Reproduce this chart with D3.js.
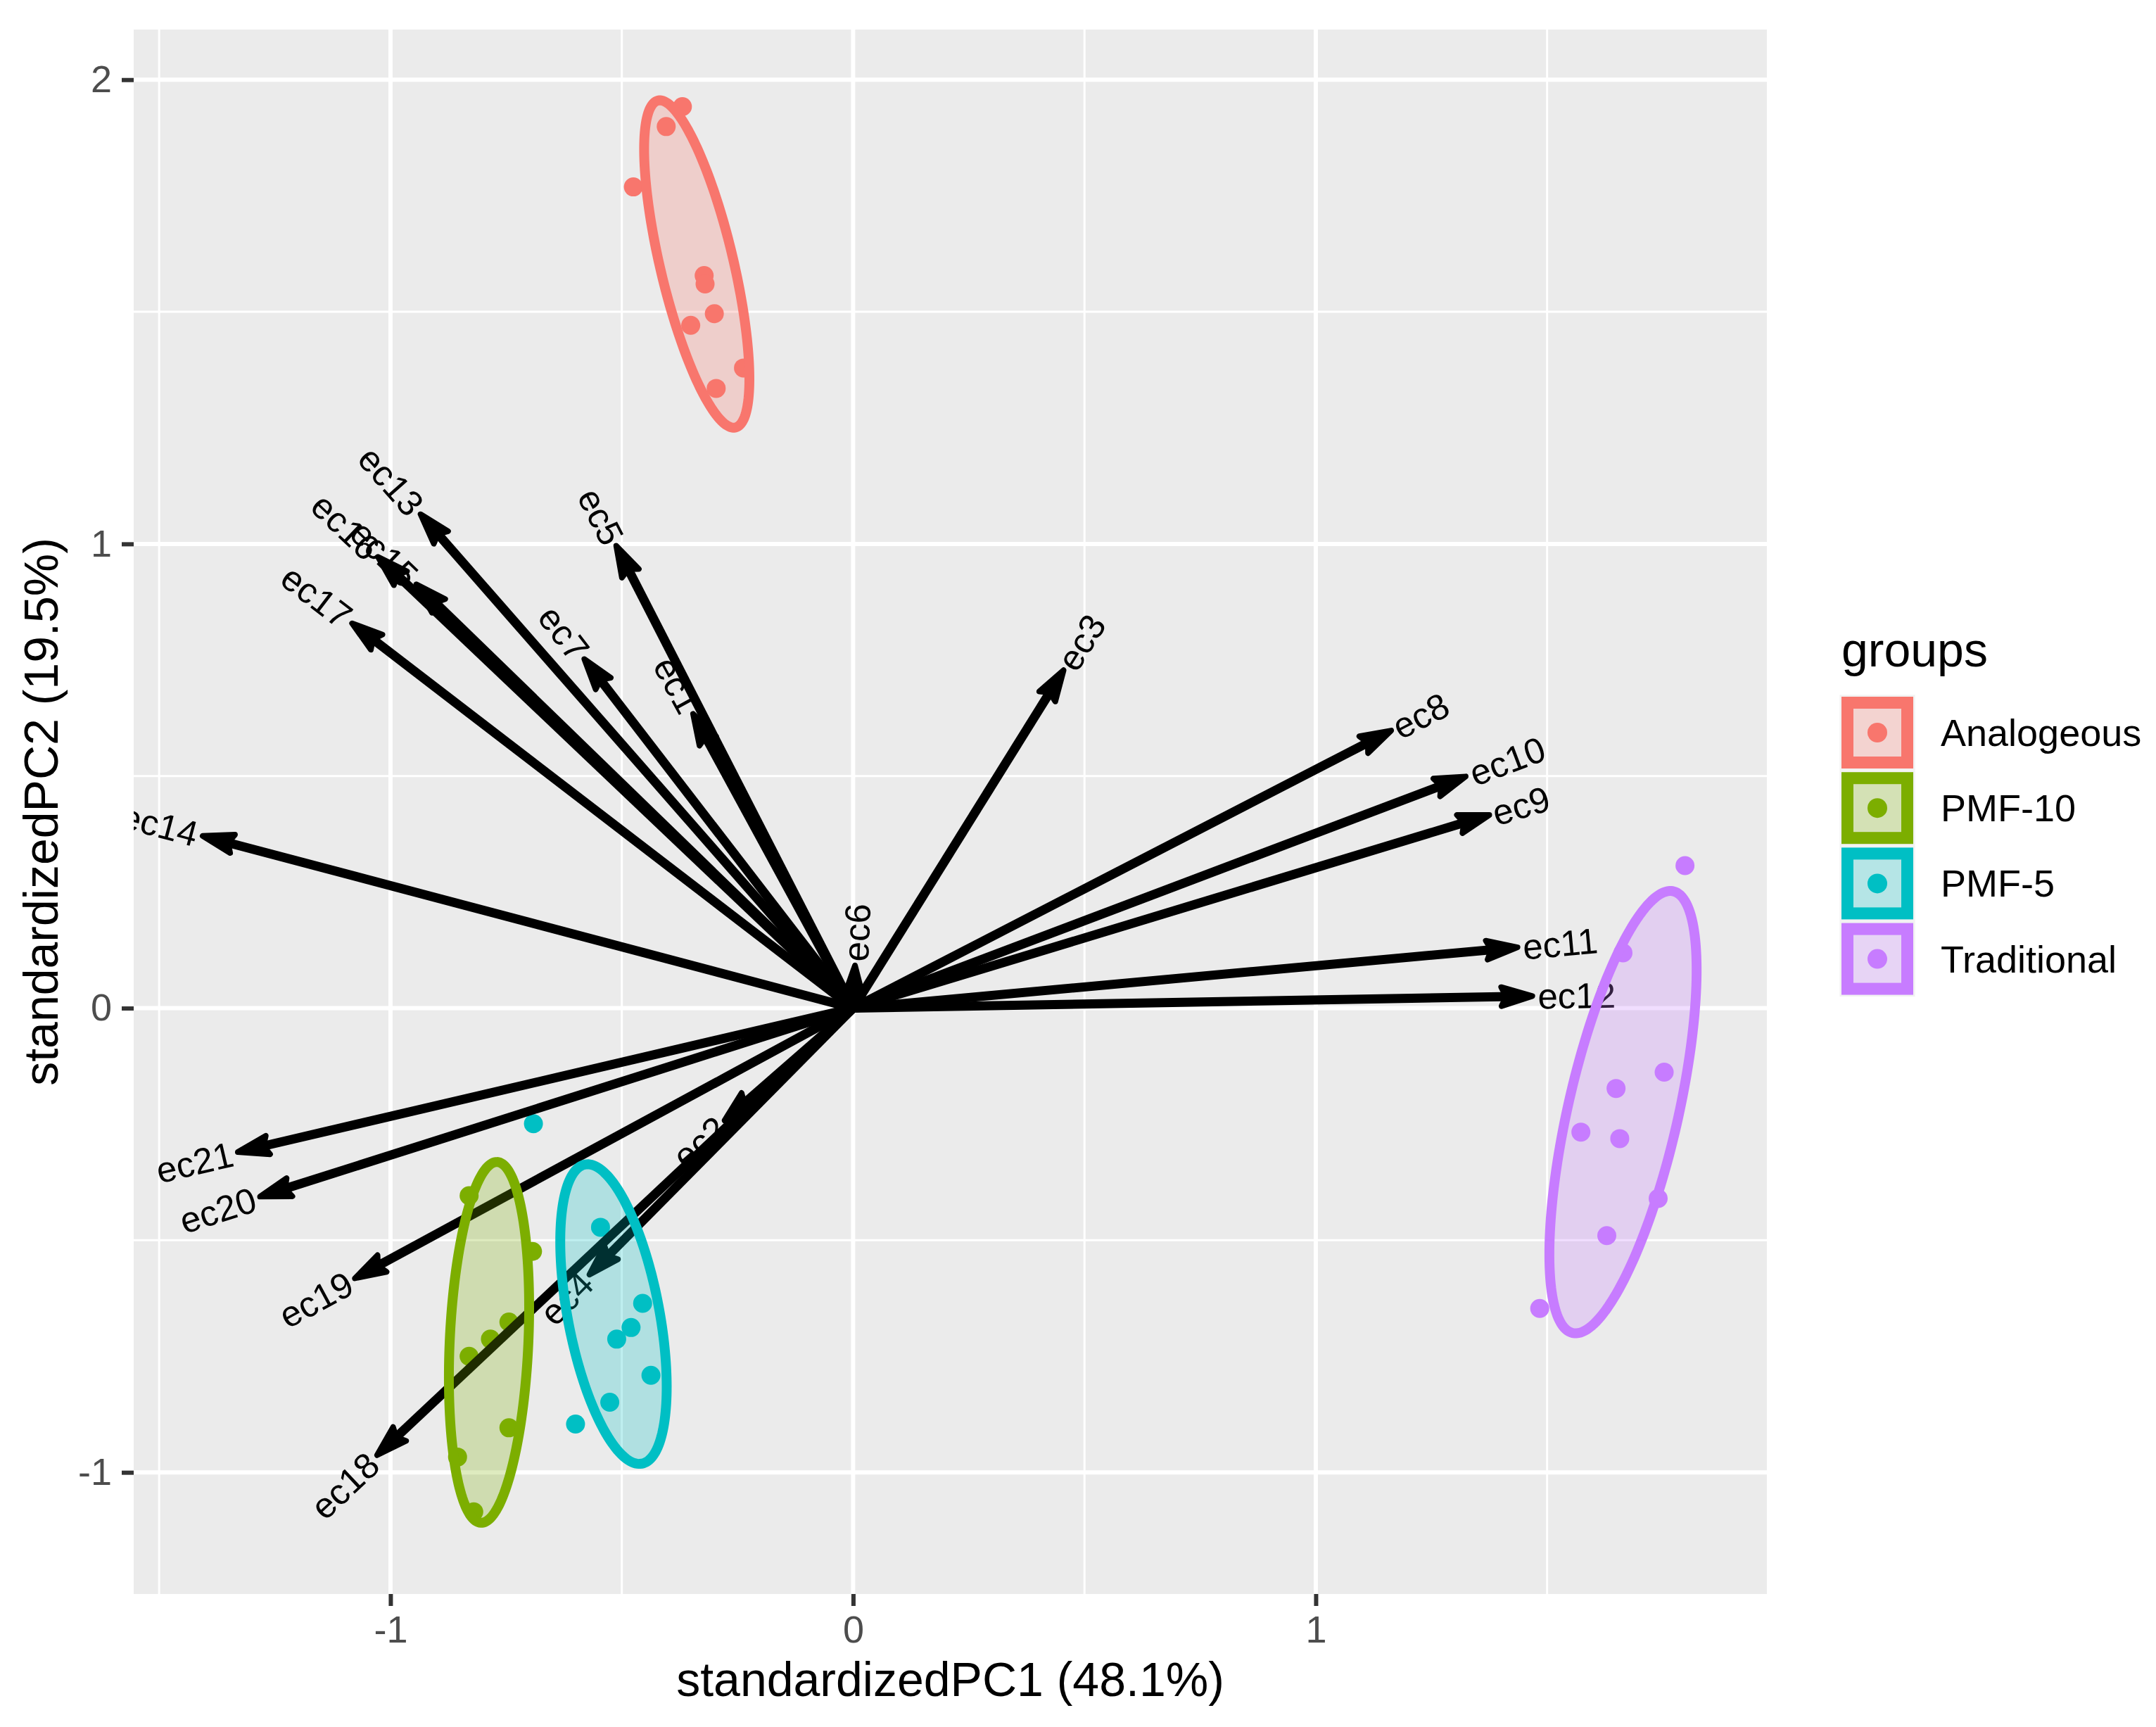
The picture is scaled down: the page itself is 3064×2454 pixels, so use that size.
<!DOCTYPE html>
<html><head><meta charset="utf-8">
<script src="https://cdn.jsdelivr.net/npm/d3@7/dist/d3.min.js"></script>
<style>
body{margin:0;background:#fff}
text{font-family:"Liberation Sans",Arial,Helvetica,sans-serif}
</style>
</head><body>
<svg id="chart" width="3064" height="2454"></svg>
<script>
// ---------------- DATA ----------------
const groups = ["Analogeous", "PMF-10", "PMF-5", "Traditional"];
const groupColors = ["#F8766D", "#7CAE00", "#00BFC4", "#C77CFF"];

const pointGroup = [
  "Analogeous","Analogeous","Analogeous","Analogeous","Analogeous","Analogeous","Analogeous","Analogeous","Analogeous",
  "PMF-10","PMF-10","PMF-10","PMF-10","PMF-10","PMF-10","PMF-10","PMF-10",
  "PMF-5","PMF-5","PMF-5","PMF-5","PMF-5","PMF-5","PMF-5","PMF-5",
  "Traditional","Traditional","Traditional","Traditional","Traditional","Traditional","Traditional","Traditional","Traditional"
];
const pointX = [
  -0.369, -0.404, -0.475, -0.322, -0.320, -0.300, -0.351, -0.237, -0.296,
  -0.830, -0.693, -0.744, -0.784, -0.830, -0.744, -0.855, -0.820,
  -0.691, -0.546, -0.455, -0.480, -0.511, -0.437, -0.526, -0.600,
  1.798, 1.664, 1.753, 1.649, 1.573, 1.657, 1.740, 1.629, 1.484
];
const pointY = [
  1.942, 1.899, 1.769, 1.578, 1.560, 1.496, 1.471, 1.379, 1.335,
  -0.404, -0.524, -0.676, -0.713, -0.750, -0.904, -0.967, -1.085,
  -0.249, -0.472, -0.636, -0.688, -0.713, -0.791, -0.849, -0.896,
  0.307, 0.119, -0.138, -0.173, -0.267, -0.281, -0.410, -0.490, -0.647
];

const varNames = ["ec1","ec2","ec3","ec4","ec5","ec6","ec7","ec8","ec9","ec10","ec11",
                  "ec12","ec13","ec14","ec15","ec16","ec17","ec18","ec19","ec20","ec21"];
const varX = [-0.346, -0.278, 0.455, -0.570, -0.512, 0.004, -0.581, 1.163, 1.375, 1.324, 1.436,
              1.468, -0.935, -1.406, -0.944, -1.027, -1.083, -1.029, -1.077, -1.282, -1.330];
const varY = [0.634, -0.242, 0.728, -0.574, 0.996, 0.092, 0.752, 0.598, 0.416, 0.499, 0.131,
              0.026, 1.064, 0.371, 0.913, 0.972, 0.829, -0.963, -0.582, -0.406, -0.310];

// ellipse parameters (data units): centre, semi-axes, rotation of major axis (deg)
const ellipseCx    = [-0.338, -0.787, -0.518, 1.664];
const ellipseCy    = [1.603, -0.720, -0.659, -0.224];
const ellipseA     = [0.362, 0.389, 0.328, 0.488];
const ellipseB     = [0.079, 0.085, 0.099, 0.119];
const ellipseAngle = [103.4, 87.4, 100.8, 77.1];

const xTicks = [-1, 0, 1];
const yTicks = [-1, 0, 1, 2];
const xMinor = [-1.5, -0.5, 0.5, 1.5];
const yMinor = [-0.5, 0.5, 1.5];
const xDomain = [-1.555, 1.975];
const yDomain = [-1.262, 2.108];
const xTitle = "standardizedPC1 (48.1%)";
const yTitle = "standardizedPC2 (19.5%)";
const legendTitle = "groups";

// ---------------- LAYOUT ----------------
const panel = {left: 190, right: 2511, top: 42, bottom: 2265};
const svg = d3.select("#chart");
const x = d3.scaleLinear().domain(xDomain).range([panel.left, panel.right]);
const y = d3.scaleLinear().domain(yDomain).range([panel.bottom, panel.top]);
const color = d3.scaleOrdinal().domain(groups).range(groupColors);

svg.append("defs").append("clipPath").attr("id", "pclip")
  .append("rect").attr("x", panel.left).attr("y", panel.top)
  .attr("width", panel.right - panel.left).attr("height", panel.bottom - panel.top);

svg.append("rect").attr("x", panel.left).attr("y", panel.top)
  .attr("width", panel.right - panel.left).attr("height", panel.bottom - panel.top)
  .attr("fill", "#EBEBEB");

const grid = svg.append("g");
grid.selectAll(".vmin").data(xMinor).join("line")
  .attr("x1", d => x(d)).attr("x2", d => x(d)).attr("y1", panel.top).attr("y2", panel.bottom)
  .attr("stroke", "#fff").attr("stroke-width", 3);
grid.selectAll(".hmin").data(yMinor).join("line")
  .attr("y1", d => y(d)).attr("y2", d => y(d)).attr("x1", panel.left).attr("x2", panel.right)
  .attr("stroke", "#fff").attr("stroke-width", 3);
grid.selectAll(".vmaj").data(xTicks).join("line")
  .attr("x1", d => x(d)).attr("x2", d => x(d)).attr("y1", panel.top).attr("y2", panel.bottom)
  .attr("stroke", "#fff").attr("stroke-width", 6);
grid.selectAll(".hmaj").data(yTicks).join("line")
  .attr("y1", d => y(d)).attr("y2", d => y(d)).attr("x1", panel.left).attr("x2", panel.right)
  .attr("stroke", "#fff").attr("stroke-width", 6);

const plot = svg.append("g").attr("clip-path", "url(#pclip)");

// points
const pts = pointX.map((v, i) => ({x: v, y: pointY[i], g: pointGroup[i]}));
plot.append("g").selectAll("circle").data(pts).join("circle")
  .attr("cx", d => x(d.x)).attr("cy", d => y(d.y)).attr("r", 13.5)
  .attr("fill", d => color(d.g));

// arrows
const vars = varNames.map((n, i) => ({name: n, x: varX[i], y: varY[i]}));
const ox = x(0), oy = y(0);
const arrowG = plot.append("g");
const headBack = 44, headSide = 13.5;
vars.forEach(v => {
  const tx = x(v.x), ty = y(v.y);
  const dx = tx - ox, dy = ty - oy, len = Math.hypot(dx, dy);
  const ux = dx / len, uy = dy / len, px = -uy, py = ux;
  const shaftEnd = Math.max(0, len - headBack * 0.7);
  arrowG.append("line")
    .attr("x1", ox).attr("y1", oy)
    .attr("x2", ox + ux * shaftEnd).attr("y2", oy + uy * shaftEnd)
    .attr("stroke", "#000").attr("stroke-width", 13);
  const bx = tx - ux * headBack, by = ty - uy * headBack;
  const nx = tx - ux * headBack * 0.85, ny = ty - uy * headBack * 0.85;
  const pth = `M${tx},${ty}L${bx + px * headSide},${by + py * headSide}L${nx},${ny}L${bx - px * headSide},${by - py * headSide}Z`;
  arrowG.append("path").attr("d", pth)
    .attr("fill", "#000").attr("stroke", "#000").attr("stroke-width", 8)
    .attr("stroke-linejoin", "round");
});

// variable labels (angle along arrow, placed just beyond the tip)
const labG = plot.append("g");
vars.forEach(v => {
  const ang = Math.atan(v.y / v.x) * 180 / Math.PI;
  const t = labG.append("text")
    .attr("transform", `translate(${x(v.x)},${y(v.y)}) rotate(${-ang})`)
    .attr("font-size", 51).attr("fill", "#000")
    .attr("dy", "0.36em")
    .text(v.name);
  const w = t.node().getComputedTextLength();
  if (v.x >= 0) t.attr("text-anchor", "start").attr("dx", 0.07 * w);
  else t.attr("text-anchor", "end").attr("dx", -0.07 * w);
});

// ellipses
const lineGen = d3.line().x(d => x(d[0])).y(d => y(d[1])).curve(d3.curveLinearClosed);
groups.forEach((g, i) => {
  const th = ellipseAngle[i] * Math.PI / 180;
  const ptsE = d3.range(0, 360, 2).map(deg => {
    const t = deg * Math.PI / 180;
    const lx = ellipseA[i] * Math.cos(t), ly = ellipseB[i] * Math.sin(t);
    return [ellipseCx[i] + lx * Math.cos(th) - ly * Math.sin(th),
            ellipseCy[i] + lx * Math.sin(th) + ly * Math.cos(th)];
  });
  plot.append("path").attr("d", lineGen(ptsE))
    .attr("fill", color(g)).attr("fill-opacity", 0.25)
    .attr("stroke", color(g)).attr("stroke-width", 14);
});

// axes
const fmt = d => (d < 0 ? "-" + Math.abs(d) : String(d));
const xAxis = svg.append("g").attr("transform", `translate(0,${panel.bottom})`)
  .call(d3.axisBottom(x).tickValues(xTicks).tickSize(17).tickPadding(14).tickFormat(fmt));
const yAxis = svg.append("g").attr("transform", `translate(${panel.left},0)`)
  .call(d3.axisLeft(y).tickValues(yTicks).tickSize(17).tickPadding(14).tickFormat(fmt));
[xAxis, yAxis].forEach(a => {
  a.select(".domain").remove();
  a.selectAll(".tick line").attr("stroke", "#333333").attr("stroke-width", 6);
  a.selectAll(".tick text").attr("font-size", 54).attr("fill", "#4D4D4D")
    .attr("font-family", '"Liberation Sans",Arial,sans-serif');
});

svg.append("text").attr("x", (panel.left + panel.right) / 2).attr("y", 2410)
  .attr("text-anchor", "middle").attr("font-size", 68).attr("fill", "#000").text(xTitle);
svg.append("text").attr("transform", `translate(82,${(panel.top + panel.bottom) / 2}) rotate(-90)`)
  .attr("text-anchor", "middle").attr("font-size", 68).attr("fill", "#000").text(yTitle);

// legend
const leg = svg.append("g");
leg.append("text").attr("x", 2617).attr("y", 947).attr("font-size", 68).attr("fill", "#000").text(legendTitle);
const keyCx = 2668, keyY0 = 1041, keyStep = 107.2, keyOuter = 102, keyStroke = 17;
groups.forEach((g, i) => {
  const cy = keyY0 + i * keyStep;
  leg.append("rect").attr("x", keyCx - keyStep / 2).attr("y", cy - keyStep / 2)
    .attr("width", keyStep).attr("height", keyStep).attr("fill", "#F2F2F2");
  const inner = keyOuter - keyStroke;
  leg.append("rect").attr("x", keyCx - inner / 2).attr("y", cy - inner / 2)
    .attr("width", inner).attr("height", inner)
    .attr("fill", color(g)).attr("fill-opacity", 0.25)
    .attr("stroke", color(g)).attr("stroke-width", keyStroke);
  leg.append("circle").attr("cx", keyCx).attr("cy", cy).attr("r", 14).attr("fill", color(g));
  leg.append("text").attr("x", 2758).attr("y", cy).attr("dy", "0.35em")
    .attr("font-size", 54).attr("fill", "#000").text(g);
});
</script>
</body></html>
